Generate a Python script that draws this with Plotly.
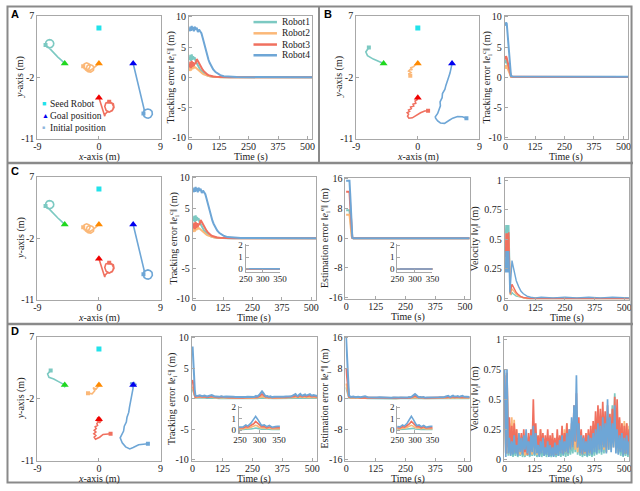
import plotly.graph_objects as go

W, H = 640, 491
FONT = "Liberation Serif"
AX = "#a8a8a8"

ROBOTS = ["Robot1", "Robot2", "Robot3", "Robot4"]
ROBOT_COLORS = ["#7cc9c2", "#fbb878", "#f0705f", "#6ea6d6"]

SEED_X = [0]
SEED_Y = [5.2]
GOAL_X = [5, -5, 0, 0]
GOAL_Y = [0, 0, 0, -5]
GOAL_COLORS = ["#0000f0", "#1fd81f", "#ff8a00", "#f00000"]

# trajectories (robot1..robot4), panels A and C share the same run
TRAJ_A_X = [
    [-7.8, -7.6, -7.3, -6.9, -6.65, -6.6, -6.7, -6.95, -7.25, -7.55, -7.75, -7.8, -7.7, -7.4, -7.0, -6.5, -6.0, -5.5, -5.0],
    [-2.3, -2.15, -1.8, -1.45, -1.3, -1.45, -1.8, -2.15, -2.3, -1.95, -1.6, -1.2, -0.8, -0.75, -0.9, -1.3, -1.7, -1.85, -1.7, -1.3, -0.9, -0.5, 0],
    [1.5, 2.1, 2.2, 1.95, 1.5, 1.05, 0.85, 1.0, 1.4, 1.9, 2.15, 2.0, 1.6, 1.2, 0.9, 0.85, 0.6, 0.3, 0],
    [6.5, 6.6, 6.9, 7.2, 7.55, 7.8, 7.75, 7.5, 7.15, 6.8, 6.55, 6.5, 6.6, 5.0],
]
TRAJ_A_Y = [
    [2.7, 2.4, 2.3, 2.4, 2.65, 2.95, 3.25, 3.45, 3.5, 3.4, 3.15, 2.85, 2.6, 2.4, 2.0, 1.4, 0.95, 0.5, 0.0],
    [-0.4, -0.05, 0.1, -0.05, -0.4, -0.75, -0.9, -0.75, -0.4, -0.95, -1.2, -1.25, -1.0, -0.6, -0.3, -0.15, -0.3, -0.7, -1.05, -1.0, -0.75, -0.4, 0],
    [-5.6, -5.9, -6.4, -6.9, -7.1, -6.85, -6.3, -5.8, -5.6, -5.8, -6.3, -6.8, -7.05, -7.1, -7.4, -7.7, -6.9, -5.9, -5.0],
    [-7.3, -7.75, -7.95, -8.0, -7.85, -7.45, -7.0, -6.75, -6.65, -6.75, -7.0, -7.3, -6.7, 0.0],
]
TRAJ_B_X = [
    [-7.15, -7.6, -7.35, -6.9, -6.5, -6.0, -5.5, -5.0],
    [-1.1, -1.3, -1.0, -1.35, -1.1, -0.8, -1.0, -0.6, -0.4, -0.2, 0],
    [1.5, 1.0, 0.4, -0.2, -0.8, -1.3, -1.5, -1.35, -1.55, -1.2, -1.35, -0.95, -1.05, -0.6, -0.7, -0.3, -0.4, -0.1, 0],
    [7.1, 6.5, 5.8, 5.1, 4.6, 3.9, 3.3, 2.9, 2.6, 2.55, 2.9, 3.05, 3.3, 3.25, 3.55, 3.6, 3.95, 4.1, 4.35, 4.5, 4.7, 4.85, 5.0],
]
TRAJ_B_Y = [
    [2.35, 1.7, 1.15, 0.85, 0.65, 0.45, 0.25, 0.0],
    [-1.8, -1.5, -1.3, -1.1, -0.85, -0.9, -0.6, -0.45, -0.2, -0.1, 0],
    [-6.9, -6.95, -7.2, -7.6, -7.95, -8.0, -7.7, -7.4, -7.2, -7.0, -6.8, -6.6, -6.35, -6.2, -5.95, -5.8, -5.5, -5.3, -5.0],
    [-8.0, -7.8, -7.75, -8.0, -8.3, -8.75, -8.7, -8.4, -8.0, -7.8, -7.3, -6.8, -6.2, -5.6, -5.0, -4.4, -3.8, -3.2, -2.6, -2.0, -1.4, -0.7, 0.0],
]
TRAJ_D_X = [
    [-7.05, -7.5, -7.3, -6.6, -5.9, -5.3, -5.0, -5.2, -4.9, -5.1, -4.8, -5.0, -5.2, -5.0],
    [-1.6, -1.0, -0.6, -0.85, -0.4, -0.1, 0, 0.2, -0.2, 0.15, -0.1, 0.1, 0],
    [1.7, 1.2, 0.6, 0.1, -0.5, -0.7, -0.45, -0.75, -0.45, -0.7, -0.4, -0.55, -0.2, -0.3, 0, 0.3, -0.3, 0.4, -0.2, 0.2, -0.4, 0.3, 0],
    [7.15, 6.5, 5.8, 5.0, 4.5, 3.9, 3.4, 3.1, 3.3, 3.6, 3.7, 4.0, 4.1, 4.35, 4.45, 4.6, 4.75, 4.85, 5.0, 4.6, 5.3, 4.8, 5.5, 4.7, 5.2, 5.0],
]
TRAJ_D_Y = [
    [2.1, 1.6, 1.1, 0.86, 0.48, 0.14, 0.0, 0.2, -0.1, 0.15, 0.05, -0.25, 0.0, 0.0],
    [-1.2, -1.3, -0.85, -0.4, -0.6, -0.2, 0, 0.15, 0.1, -0.15, 0.2, 0.05, 0],
    [-7.1, -7.1, -7.2, -7.6, -7.9, -7.6, -7.35, -7.1, -6.85, -6.6, -6.35, -6.1, -5.9, -5.6, -5.3, -5.0, -4.8, -5.3, -4.7, -5.5, -5.1, -4.85, -5.0],
    [-8.55, -8.6, -8.7, -9.1, -9.3, -9.0, -8.4, -7.7, -7.2, -6.7, -6.0, -5.4, -4.7, -4.0, -3.3, -2.6, -1.9, -1.2, -0.4, 0.3, 0.2, -0.3, 0.1, -0.1, 0.4, 0.0],
]

# tracking error, panels A and C
T_TRK_A = [0, 3, 6, 9, 12, 15, 18, 21, 25, 30, 35, 40, 45, 50, 55, 60, 65, 70, 75, 80, 85, 90, 95, 100, 110, 120, 130, 145, 170, 200, 520]
TRK_A = [
    [2.8, 3.7, 2.7, 3.8, 2.9, 3.5, 3.0, 3.3, 2.7, 2.3, 1.9, 1.55, 1.25, 1.0, 0.8, 0.62, 0.48, 0.37, 0.28, 0.21, 0.16, 0.12, 0.09, 0.07, 0.04, 0.025, 0.015, 0.008, 0.003, 0.001, 0],
    [1.0, 1.8, 1.1, 2.0, 1.3, 1.9, 1.5, 1.7, 1.6, 1.4, 1.2, 1.0, 0.85, 0.7, 0.57, 0.46, 0.37, 0.29, 0.23, 0.18, 0.14, 0.11, 0.08, 0.06, 0.035, 0.02, 0.01, 0.005, 0.002, 0.001, 0],
    [1.6, 2.6, 1.5, 2.7, 1.7, 2.5, 1.9, 2.4, 2.2, 3.0, 2.7, 2.3, 1.9, 1.55, 1.25, 1.0, 0.78, 0.6, 0.46, 0.35, 0.26, 0.2, 0.15, 0.11, 0.06, 0.035, 0.02, 0.008, 0.003, 0.001, 0],
    [7.6, 8.4, 7.7, 8.5, 7.8, 8.3, 7.6, 8.4, 7.9, 8.2, 7.5, 7.9, 7.6, 7.3, 6.6, 5.8, 5.0, 4.2, 3.5, 2.9, 2.4, 1.95, 1.6, 1.3, 0.85, 0.55, 0.35, 0.18, 0.06, 0.02, 0],
]
T_TRK_B = [0, 2, 5, 8, 11, 14, 17, 20, 23, 30, 520]
TRK_B = [
    [2.3, 2.9, 2.6, 2.1, 1.6, 1.1, 0.6, 0.25, 0.09, 0.05, 0.04],
    [1.4, 2.0, 1.8, 1.5, 1.1, 0.75, 0.4, 0.15, 0.06, 0.04, 0.03],
    [2.9, 3.5, 3.2, 2.6, 2.0, 1.4, 0.8, 0.35, 0.12, 0.06, 0.04],
    [8.5, 9.1, 8.9, 7.5, 5.5, 3.5, 1.8, 0.6, 0.2, 0.12, 0.08],
]
T_EST_C = [0, 14, 17, 20, 23, 26, 30, 520]
EST_C = [
    [7.5, 7.5, 5.5, 2.8, 0.8, 0.1, 0, 0],
    [6.3, 6.3, 4.5, 2.2, 0.6, 0.05, 0, 0],
    [12.5, 12.5, 9.0, 4.5, 1.0, 0.1, 0, 0],
    [15.5, 15.5, 12.0, 6.0, 1.5, 0.2, 0, 0],
]
T_VEL_C = [0, 1.5, 3, 4.5, 6, 7.5, 9, 10.5, 12, 13.5, 15, 16.5, 18, 20, 23, 27, 32, 38, 45, 55, 65, 75, 90, 105, 125, 150, 200, 250, 300, 350, 400, 450, 500, 520]
VEL_C = [
    [0.55, 0.62, 0.5, 0.61, 0.52, 0.62, 0.5, 0.6, 0.53, 0.62, 0.5, 0.3, 0.05, 0.04, 0.03, 0.05, 0.04, 0.03, 0.02, 0.015, 0.01, 0.005, 0, 0, 0, 0, 0, 0, 0, 0, 0, 0, 0, 0],
    [0.45, 0.5, 0.42, 0.5, 0.44, 0.52, 0.4, 0.5, 0.45, 0.52, 0.42, 0.25, 0.04, 0.03, 0.06, 0.08, 0.07, 0.05, 0.035, 0.02, 0.01, 0.005, 0, 0, 0, 0, 0, 0, 0, 0, 0, 0, 0, 0],
    [0.35, 0.55, 0.3, 0.52, 0.4, 0.55, 0.32, 0.5, 0.38, 0.56, 0.4, 0.3, 0.05, 0.04, 0.08, 0.12, 0.1, 0.07, 0.05, 0.03, 0.015, 0.008, 0.003, 0, 0, 0, 0, 0, 0, 0, 0, 0, 0, 0],
    [0.22, 0.4, 0.25, 0.38, 0.22, 0.4, 0.24, 0.36, 0.22, 0.4, 0.25, 0.12, 0.05, 0.1, 0.25, 0.32, 0.27, 0.2, 0.15, 0.1, 0.06, 0.04, 0.02, 0.01, 0.005, 0.01, 0.005, 0.01, 0.005, 0.01, 0.005, 0.01, 0.005, 0.005],
]

# panel D tracking / estimation (shared tail after the first 12 s)
T_D = [0, 3, 6, 9, 12, 20, 30, 40, 50, 60, 70, 80, 90, 100, 110, 120, 130, 140, 150, 160, 170, 180, 190, 200, 210, 220, 230, 240,
       250, 258, 265, 270, 278, 285, 290, 295, 300, 305, 312, 318, 325, 332, 340, 348, 360, 370, 380, 390, 400, 410, 420,
       425, 430, 435, 440, 445, 450, 455, 460, 465, 470, 475, 480, 485, 490, 495, 500, 505, 510, 515, 520]
TRK_D_HEAD = [[1.6, 1.2, 0.8, 0.3, 0.15], [2.0, 1.6, 1.0, 0.4, 0.2], [3.1, 2.5, 1.5, 0.6, 0.3], [8.6, 7.0, 4.0, 1.5, 0.5]]
EST_D_HEAD = [[3.0, 2.2, 1.4, 0.6, 0.2], [4.0, 3.0, 2.0, 0.8, 0.4], [8.0, 6.0, 3.5, 1.5, 0.5], [16.0, 12.0, 7.0, 3.0, 0.8]]
D_TAIL = [
    [0.15, 0.18, 0.12, 0.15, 0.1, 0.12, 0.18, 0.12, 0.1, 0.08, 0.12, 0.08, 0.1, 0.08, 0.07, 0.08, 0.08, 0.07, 0.08, 0.06, 0.08, 0.08, 0.07,
     0.06, 0.05, 0.08, 0.07, 0.1, 0.14, 0.18, 0.15, 0.1, 0.08, 0.09, 0.06, 0.08, 0.05, 0.06, 0.05,
     0.06, 0.05, 0.07, 0.08, 0.1, 0.08, 0.12,
     0.14, 0.18, 0.12, 0.1, 0.15, 0.2, 0.14, 0.12, 0.15, 0.18, 0.12, 0.14, 0.15, 0.18, 0.14, 0.12, 0.15, 0.14, 0.12, 0.1],
    [0.25, 0.3, 0.22, 0.25, 0.18, 0.22, 0.3, 0.2, 0.18, 0.15, 0.2, 0.15, 0.18, 0.15, 0.12, 0.15, 0.14, 0.12, 0.15, 0.1, 0.14, 0.15, 0.12,
     0.12, 0.1, 0.18, 0.15, 0.25, 0.32, 0.42, 0.35, 0.22, 0.18, 0.2, 0.12, 0.18, 0.1, 0.12, 0.1,
     0.12, 0.1, 0.14, 0.15, 0.2, 0.15, 0.22,
     0.25, 0.3, 0.22, 0.2, 0.28, 0.35, 0.25, 0.22, 0.28, 0.32, 0.22, 0.25, 0.28, 0.32, 0.25, 0.22, 0.28, 0.25, 0.22, 0.2],
    [0.35, 0.4, 0.3, 0.35, 0.25, 0.3, 0.4, 0.3, 0.25, 0.2, 0.3, 0.22, 0.25, 0.2, 0.18, 0.22, 0.2, 0.18, 0.22, 0.15, 0.2, 0.22, 0.18,
     0.2, 0.18, 0.3, 0.25, 0.4, 0.55, 0.75, 0.6, 0.4, 0.3, 0.3, 0.2, 0.28, 0.18, 0.2, 0.18,
     0.2, 0.18, 0.22, 0.25, 0.3, 0.25, 0.35,
     0.4, 0.5, 0.35, 0.3, 0.45, 0.55, 0.4, 0.35, 0.45, 0.5, 0.35, 0.4, 0.45, 0.5, 0.4, 0.35, 0.45, 0.4, 0.35, 0.3],
    [0.45, 0.55, 0.4, 0.5, 0.35, 0.45, 0.6, 0.4, 0.35, 0.3, 0.4, 0.3, 0.35, 0.3, 0.25, 0.3, 0.28, 0.25, 0.3, 0.22, 0.28, 0.3, 0.25,
     0.3, 0.28, 0.45, 0.35, 0.6, 0.9, 1.2, 0.95, 0.6, 0.4, 0.45, 0.3, 0.4, 0.25, 0.3, 0.28,
     0.3, 0.25, 0.3, 0.35, 0.4, 0.35, 0.55,
     0.6, 0.75, 0.5, 0.45, 0.65, 0.8, 0.55, 0.5, 0.6, 0.7, 0.5, 0.55, 0.6, 0.75, 0.55, 0.5, 0.6, 0.55, 0.5, 0.45],
]

# panel D velocity, sampled every 5 s from 0 to 520 s
T_VEL_D = list(range(0, 525, 5))
VEL_D = [
    [0.6, 0.05, 0.62, 0.03, 0.15, 0.03, 0.12, 0.02, 0.1, 0.03, 0.12, 0.02, 0.08, 0.03, 0.1, 0.02, 0.08, 0.02, 0.1, 0.03,
     0.08, 0.02, 0.1, 0.03, 0.12, 0.03, 0.1, 0.02, 0.08, 0.03, 0.1, 0.02, 0.08, 0.03, 0.1, 0.02, 0.08, 0.03, 0.07, 0.02,
     0.08, 0.03, 0.07, 0.02, 0.08, 0.03, 0.1, 0.02, 0.1, 0.03, 0.12, 0.02, 0.1, 0.03, 0.12, 0.04, 0.15, 0.05, 0.2, 0.06,
     0.25, 0.04, 0.15, 0.03, 0.1, 0.02, 0.08, 0.03, 0.1, 0.02, 0.08, 0.03, 0.1, 0.02, 0.12, 0.03, 0.15, 0.04, 0.18, 0.05,
     0.2, 0.04, 0.22, 0.05, 0.25, 0.06, 0.28, 0.08, 0.35, 0.1, 0.45, 0.15, 0.55, 0.12, 0.3, 0.05, 0.15, 0.03, 0.12, 0.02,
     0.1, 0.03, 0.12, 0.02, 0.1],
    [0.72, 0.05, 0.7, 0.05, 0.3, 0.1, 0.35, 0.08, 0.33, 0.1, 0.25, 0.05, 0.18, 0.04, 0.2, 0.05, 0.15, 0.03, 0.2, 0.04,
     0.18, 0.05, 0.15, 0.04, 0.2, 0.05, 0.22, 0.04, 0.18, 0.05, 0.25, 0.06, 0.2, 0.04, 0.15, 0.05, 0.18, 0.03, 0.15, 0.04,
     0.2, 0.05, 0.15, 0.04, 0.18, 0.05, 0.15, 0.06, 0.2, 0.05, 0.25, 0.06, 0.3, 0.05, 0.22, 0.08, 0.25, 0.1, 0.3, 0.08,
     0.35, 0.06, 0.25, 0.05, 0.2, 0.04, 0.18, 0.05, 0.2, 0.04, 0.22, 0.05, 0.25, 0.06, 0.28, 0.08, 0.3, 0.1, 0.32, 0.08,
     0.3, 0.1, 0.35, 0.08, 0.3, 0.06, 0.32, 0.1, 0.3, 0.08, 0.35, 0.1, 0.4, 0.08, 0.32, 0.06, 0.33, 0.08, 0.3, 0.05,
     0.32, 0.06, 0.3, 0.05, 0.28],
    [0.7, 0.05, 0.72, 0.1, 0.35, 0.05, 0.28, 0.08, 0.3, 0.06, 0.25, 0.05, 0.2, 0.08, 0.22, 0.05, 0.25, 0.06, 0.2, 0.04,
     0.22, 0.06, 0.25, 0.08, 0.5, 0.1, 0.3, 0.06, 0.2, 0.05, 0.25, 0.08, 0.22, 0.05, 0.2, 0.06, 0.25, 0.04, 0.2, 0.06,
     0.22, 0.05, 0.18, 0.04, 0.25, 0.06, 0.2, 0.08, 0.28, 0.05, 0.22, 0.07, 0.3, 0.06, 0.25, 0.1, 0.3, 0.12, 0.45, 0.15,
     0.55, 0.1, 0.35, 0.06, 0.25, 0.05, 0.2, 0.06, 0.22, 0.05, 0.25, 0.06, 0.28, 0.08, 0.32, 0.1, 0.4, 0.12, 0.45, 0.15,
     0.42, 0.12, 0.48, 0.15, 0.4, 0.1, 0.45, 0.15, 0.38, 0.12, 0.42, 0.15, 0.52, 0.12, 0.5, 0.1, 0.35, 0.08, 0.3, 0.06,
     0.28, 0.05, 0.3, 0.06, 0.25],
    [0.75, 0.02, 0.75, 0.05, 0.18, 0.03, 0.15, 0.04, 0.2, 0.05, 0.12, 0.03, 0.22, 0.06, 0.18, 0.04, 0.2, 0.08, 0.25, 0.05,
     0.15, 0.03, 0.2, 0.06, 0.28, 0.04, 0.22, 0.05, 0.12, 0.02, 0.15, 0.05, 0.18, 0.03, 0.1, 0.04, 0.15, 0.02, 0.12, 0.03,
     0.1, 0.02, 0.14, 0.04, 0.12, 0.03, 0.16, 0.05, 0.2, 0.04, 0.15, 0.06, 0.22, 0.05, 0.25, 0.08, 0.35, 0.1, 0.45, 0.15,
     0.7, 0.1, 0.3, 0.05, 0.2, 0.04, 0.18, 0.06, 0.15, 0.03, 0.2, 0.05, 0.18, 0.04, 0.22, 0.06, 0.25, 0.05, 0.3, 0.08,
     0.28, 0.06, 0.35, 0.1, 0.3, 0.05, 0.5, 0.08, 0.35, 0.06, 0.3, 0.1, 0.45, 0.05, 0.25, 0.04, 0.2, 0.06, 0.22, 0.03,
     0.18, 0.05, 0.2, 0.04, 0.15],
]

fig = go.Figure()
layout = {}
annotations = []
shapes = []
n_ax = [0]


def ann(x, y, text, size=10, family=FONT, color="#222", xanchor="left", angle=0):
    annotations.append(dict(x=x / W, y=1 - y / H, xref="paper", yref="paper", text=text, showarrow=False,
                            xanchor=xanchor, yanchor="middle", textangle=angle,
                            font=dict(family=family, size=size, color=color)))


def add_axes(left, right, top, bottom, xr, yr, xt, yt, inset=False, ytt=None):
    n_ax[0] += 1
    k = n_ax[0]
    s = "" if k == 1 else str(k)
    common = dict(showgrid=False, zeroline=False, showline=True, linecolor=AX, linewidth=1,
                  mirror=not inset, ticks="inside", ticklen=3, tickcolor=AX,
                  tickfont=dict(family=FONT, size=9 if inset else 10, color="#222"))
    layout["xaxis" + s] = dict(common, domain=[left / W, right / W], range=xr, tickvals=xt,
                               ticktext=[str(v) for v in xt], anchor="y" + s, ticklabelstandoff=-2)
    layout["yaxis" + s] = dict(common, domain=[1 - bottom / H, 1 - top / H], range=yr, tickvals=yt,
                               ticktext=ytt or [str(v) for v in yt], anchor="x" + s)
    return "x" + s, "y" + s


def titles(left, right, top, bottom, xtitle, ytitle, ytitle_x):
    ann((left + right) / 2, bottom + 19, xtitle, xanchor="center")
    ann(ytitle_x, (top + bottom) / 2, ytitle, xanchor="center", angle=-90)


def scatter_panel(left, top, bottom, tx, ty, ytitle_x):
    xa, ya = add_axes(left, left + 126, top, bottom, [-9, 9], [-11, 7], [-9, 0, 9], [-11, -2, 7])
    titles(left, left + 126, top, bottom, "<i>x</i>-axis (m)", "<i>y</i>-axis (m)", ytitle_x)
    for i in range(4):
        fig.add_trace(go.Scatter(x=tx[i], y=ty[i], xaxis=xa, yaxis=ya, mode="lines",
                                 line=dict(color=ROBOT_COLORS[i], width=1.6), hoverinfo="skip"))
    fig.add_trace(go.Scatter(x=[p[0] for p in tx], y=[p[0] for p in ty], xaxis=xa, yaxis=ya, mode="markers",
                             marker=dict(color=ROBOT_COLORS, size=4, symbol="square"), hoverinfo="skip"))
    fig.add_trace(go.Scatter(x=SEED_X, y=SEED_Y, xaxis=xa, yaxis=ya, mode="markers",
                             marker=dict(color="#22e2ea", size=5, symbol="square"), hoverinfo="skip"))
    fig.add_trace(go.Scatter(x=GOAL_X, y=GOAL_Y, xaxis=xa, yaxis=ya, mode="markers",
                             marker=dict(color=GOAL_COLORS, size=7, symbol="triangle-up"), hoverinfo="skip"))


def series_panel(left, right, top, bottom, t, series, yr, yt, ytitle, ytitle_x, width=2, ytt=None):
    xa, ya = add_axes(left, right, top, bottom, [-3, 520], yr, [0, 125, 250, 375, 500], yt, ytt=ytt)
    titles(left, right, top, bottom, "Time (s)", ytitle, ytitle_x)
    for i in range(4):
        fig.add_trace(go.Scatter(x=t, y=series[i], xaxis=xa, yaxis=ya, mode="lines",
                                 line=dict(color=ROBOT_COLORS[i], width=width), hoverinfo="skip"))


def inset_panel(left, right, top, bottom, xr, t, series):
    xa, ya = add_axes(left, right, top, bottom, xr, [-0.28, 2.1], [250, 300, 350], [0, 1, 2], inset=True)
    for i in range(4):
        fig.add_trace(go.Scatter(x=t, y=series[i], xaxis=xa, yaxis=ya, mode="lines",
                                 line=dict(color=ROBOT_COLORS[i], width=1.6), hoverinfo="skip"))


TRK_TITLE = "Tracking error ‖<i>e</i><sub>i</sub><sup>c</sup>‖ (m)"
EST_TITLE = "Estimation error ‖<i>e</i><sub>i</sub><sup>e</sup>‖ (m)"
VEL_TITLE = "Velocity ‖<i>v</i><sub>i</sub>‖ (m)"
TRK_YT = [-10, -5, 0, 5, 10]
EST_YT = [-16, -8, 0, 8, 16]
VEL_YT = [0, 0.25, 0.5, 0.75, 1]
VEL_TT = ["0", "0.25", "0.5", "0.75", "1"]

TRK_D = [TRK_D_HEAD[i] + D_TAIL[i] for i in range(4)]
EST_D = [EST_D_HEAD[i] + D_TAIL[i] for i in range(4)]

# A
scatter_panel(31, 10, 136, TRAJ_A_X, TRAJ_A_Y, 14)
series_panel(186, 312, 10, 136, T_TRK_A, TRK_A, [-10.2, 10.2], TRK_YT, TRK_TITLE, 168)
# B
scatter_panel(357, 10, 136, TRAJ_B_X, TRAJ_B_Y, 340)
series_panel(509, 635, 10, 136, T_TRK_B, TRK_B, [-10.2, 10.2], TRK_YT, TRK_TITLE, 491)
# C
scatter_panel(31, 175, 301, TRAJ_A_X, TRAJ_A_Y, 14)
series_panel(190, 316, 175, 301, T_TRK_A, TRK_A, [-10.2, 10.2], TRK_YT, TRK_TITLE, 171)
inset_panel(244, 279, 244, 273, [250, 350], T_TRK_A, TRK_A)
series_panel(346, 473, 176, 300, T_EST_C, EST_C, [-16.3, 16.3], EST_YT, EST_TITLE, 325)
inset_panel(399, 435, 244, 273, [250, 350], T_EST_C, EST_C)
series_panel(509, 636, 176, 301, T_VEL_C, VEL_C, [-0.01, 1.02], VEL_YT, VEL_TITLE, 479, width=1.4, ytt=VEL_TT)
# D
scatter_panel(31, 339, 466, TRAJ_D_X, TRAJ_D_Y, 14)
series_panel(189, 317, 339, 466, T_D, TRK_D, [-10.2, 10.2], TRK_YT, TRK_TITLE, 168)
inset_panel(237, 279, 410, 438, [247, 352], T_D, TRK_D)
series_panel(346, 473, 339, 466, T_D, EST_D, [-16.3, 16.3], EST_YT, EST_TITLE, 325)
inset_panel(399, 435, 410, 438, [250, 350], T_D, EST_D)
series_panel(508, 636, 339, 466, T_VEL_D, VEL_D, [-0.01, 1.02], VEL_YT, VEL_TITLE, 479, width=1.7, ytt=VEL_TT)

# panel letters
for lx, ly, letter in [(2, 8, "A"), (322, 8, "B"), (2, 169, "C"), (2, 333, "D")]:
    ann(lx, ly, "<b>" + letter + "</b>", size=11, family="Liberation Sans", color="#000")

# marker legend (panel A)
legend_rows = [("■", "#22e2ea", "Seed Robot", 100, 7), ("▲", "#0000f0", "Goal position", 112.5, 7),
               ("■", "#8fb6dc", "Initial position", 125, 5)]
for sym, col, label, ry, ms in legend_rows:
    ann(34, ry, f"<span style='color:{col}'>{sym}</span>", size=ms)
    ann(42, ry, label, size=9.5)

# robot legend (panel A)
for i, ry in enumerate([16.5, 28, 39.5, 50.5]):
    shapes.append(dict(type="line", xref="paper", yref="paper", x0=252 / W, x1=276 / W, y0=1 - ry / H, y1=1 - ry / H,
                       line=dict(color=ROBOT_COLORS[i], width=2.5)))
    ann(279, ry, ROBOTS[i], size=9.5)

# panel frames
GRAY = "#8a8a8a"
shapes.append(dict(type="rect", xref="paper", yref="paper", x0=0.5 / W, x1=638.5 / W, y0=1 - 488.5 / H, y1=1 - 0.5 / H,
                   line=dict(color=GRAY, width=2)))
shapes.append(dict(type="line", xref="paper", yref="paper", x0=0, x1=1, y0=1 - 161 / H, y1=1 - 161 / H,
                   line=dict(color=GRAY, width=2.5)))
shapes.append(dict(type="line", xref="paper", yref="paper", x0=0, x1=1, y0=1 - 326 / H, y1=1 - 326 / H,
                   line=dict(color=GRAY, width=2.5)))
shapes.append(dict(type="line", xref="paper", yref="paper", x0=319 / W, x1=319 / W, y0=1 - 161 / H, y1=1,
                   line=dict(color=GRAY, width=2)))

fig.update_layout(**layout)
fig.update_layout(
    width=W, height=H,
    margin=dict(l=0, r=0, t=0, b=0),
    paper_bgcolor="white", plot_bgcolor="white",
    showlegend=False,
    annotations=annotations,
    shapes=shapes,
)
fig.write_html("out.html", config={"displayModeBar": False},
               post_script="document.body.style.margin='0px';document.body.style.overflow='hidden';")
